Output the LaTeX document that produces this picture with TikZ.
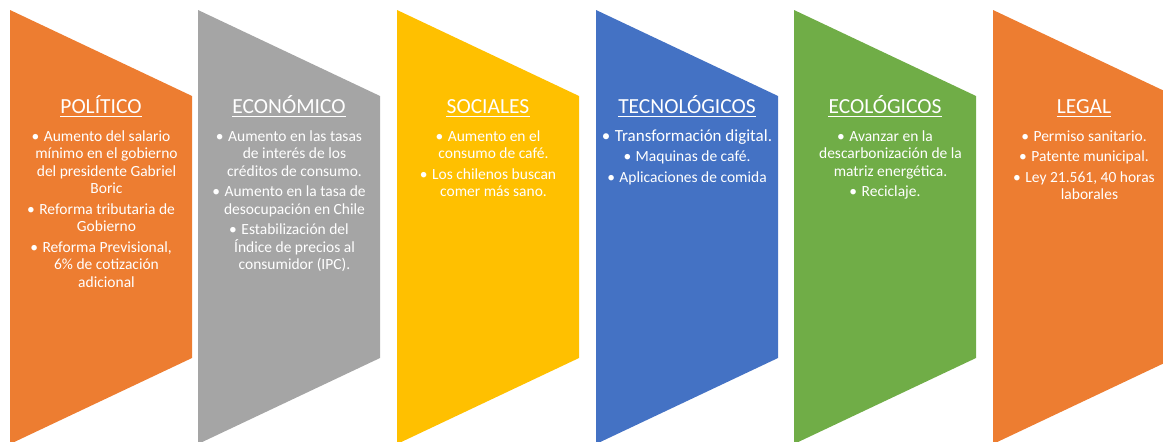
\documentclass[tikz,border=0pt]{standalone}
\usepackage{fontspec}
\setmainfont{Carlito}

\definecolor{pOrange}{HTML}{ED7D31}
\definecolor{pGray}{HTML}{A5A5A5}
\definecolor{pYellow}{HTML}{FFC000}
\definecolor{pBlue}{HTML}{4472C4}
\definecolor{pGreen}{HTML}{70AD47}

% bullet at the start of an item; continuation lines get the hanging indent
\newcommand\itm{\rule{0pt}{12.5pt}•\hspace{4.5pt}}
\newcommand\cnt{\hspace*{11pt}}

\tikzset{
  panel/.style={fill=#1, draw=none},
  heading/.style={text=white, inner sep=0pt, anchor=base,
    font=\fontsize{21.5}{25}\selectfont},
  headrule/.style={draw=white, line width=0.9pt},
  body/.style={text=white, inner sep=0pt, anchor=north, align=center,
    font=\fontsize{15.5}{17.5}\selectfont},
}

% chevron panel: left edge x, fill colour
\newcommand\chevron[2]{%
  \fill[panel=#2] (#1,10) -- ++(182,86) -- ++(0,262) -- ++(-182,86) -- cycle;}

\begin{document}
\begin{tikzpicture}[x=1pt,y=-1pt]
\useasboundingbox (0,0) rectangle (1163,442);
\clip (0,0) rectangle (1163,442);

\chevron{10}{pOrange}
\chevron{198}{pGray}
\chevron{397}{pYellow}
\chevron{596}{pBlue}
\chevron{794}{pGreen}
\chevron{993}{pOrange}

% headings
\node[heading] (h1) at (101,113) {POLÍTICO};
\node[heading] (h2) at (289,113) {ECONÓMICO};
\node[heading] (h3) at (488,113) {SOCIALES};
\node[heading] (h4) at (687,113) {TECNOLÓGICOS};
\node[heading] (h5) at (885,113) {ECOLÓGICOS};
\node[heading] (h6) at (1084,113) {LEGAL};
\foreach \h in {h1,h2,h3,h4,h5,h6}
  \draw[headrule] ([yshift=-3pt]\h.base west) -- ([yshift=-3pt]\h.base east);

% bullet lists
\node[body] (b1) at (101,128.5) {%
  \itm Aumento del salario\\ \cnt mínimo en el gobierno\\ \cnt del presidente Gabriel\\ \cnt Boric\\[3pt]
  \itm Reforma tributaria de\\ \cnt Gobierno\\[3pt]
  \itm Reforma Previsional,\\ \cnt 6\% de cotización\\ \cnt adicional};

\node[body] (b2) at (289,128.5) {%
  \itm Aumento en las tasas\\ \cnt de interés de los\\ \cnt créditos de consumo.\\[3pt]
  \itm Aumento en la tasa de\\ \cnt desocupación en Chile\\[3pt]
  \itm Estabilización del\\ \cnt Índice de precios al\\ \cnt consumidor (IPC).};

\node[body] (b3) at (488,128.5) {%
  \itm Aumento en el\\ \cnt consumo de café.\\[3pt]
  \itm Los chilenos buscan\\ \cnt comer más sano.};

\node[body] (b4) at (687,128.5) {%
  {\fontsize{17}{17.5}\selectfont\itm Transformación digital.}\\[3pt]
  \itm Maquinas de café.\\[3pt]
  \itm Aplicaciones de comida};

\node[body] (b5) at (885,128.5) {%
  \itm Avanzar en la\\ \cnt descarbonización de la\\ \cnt matriz energética.\\[3pt]
  \itm Reciclaje.};

\node[body] (b6) at (1084,128.5) {%
  \itm Permiso sanitario.\\[3pt]
  \itm Patente municipal.\\[3pt]
  \itm Ley 21.561, 40 horas\\ \cnt laborales};
\end{tikzpicture}
\end{document}
